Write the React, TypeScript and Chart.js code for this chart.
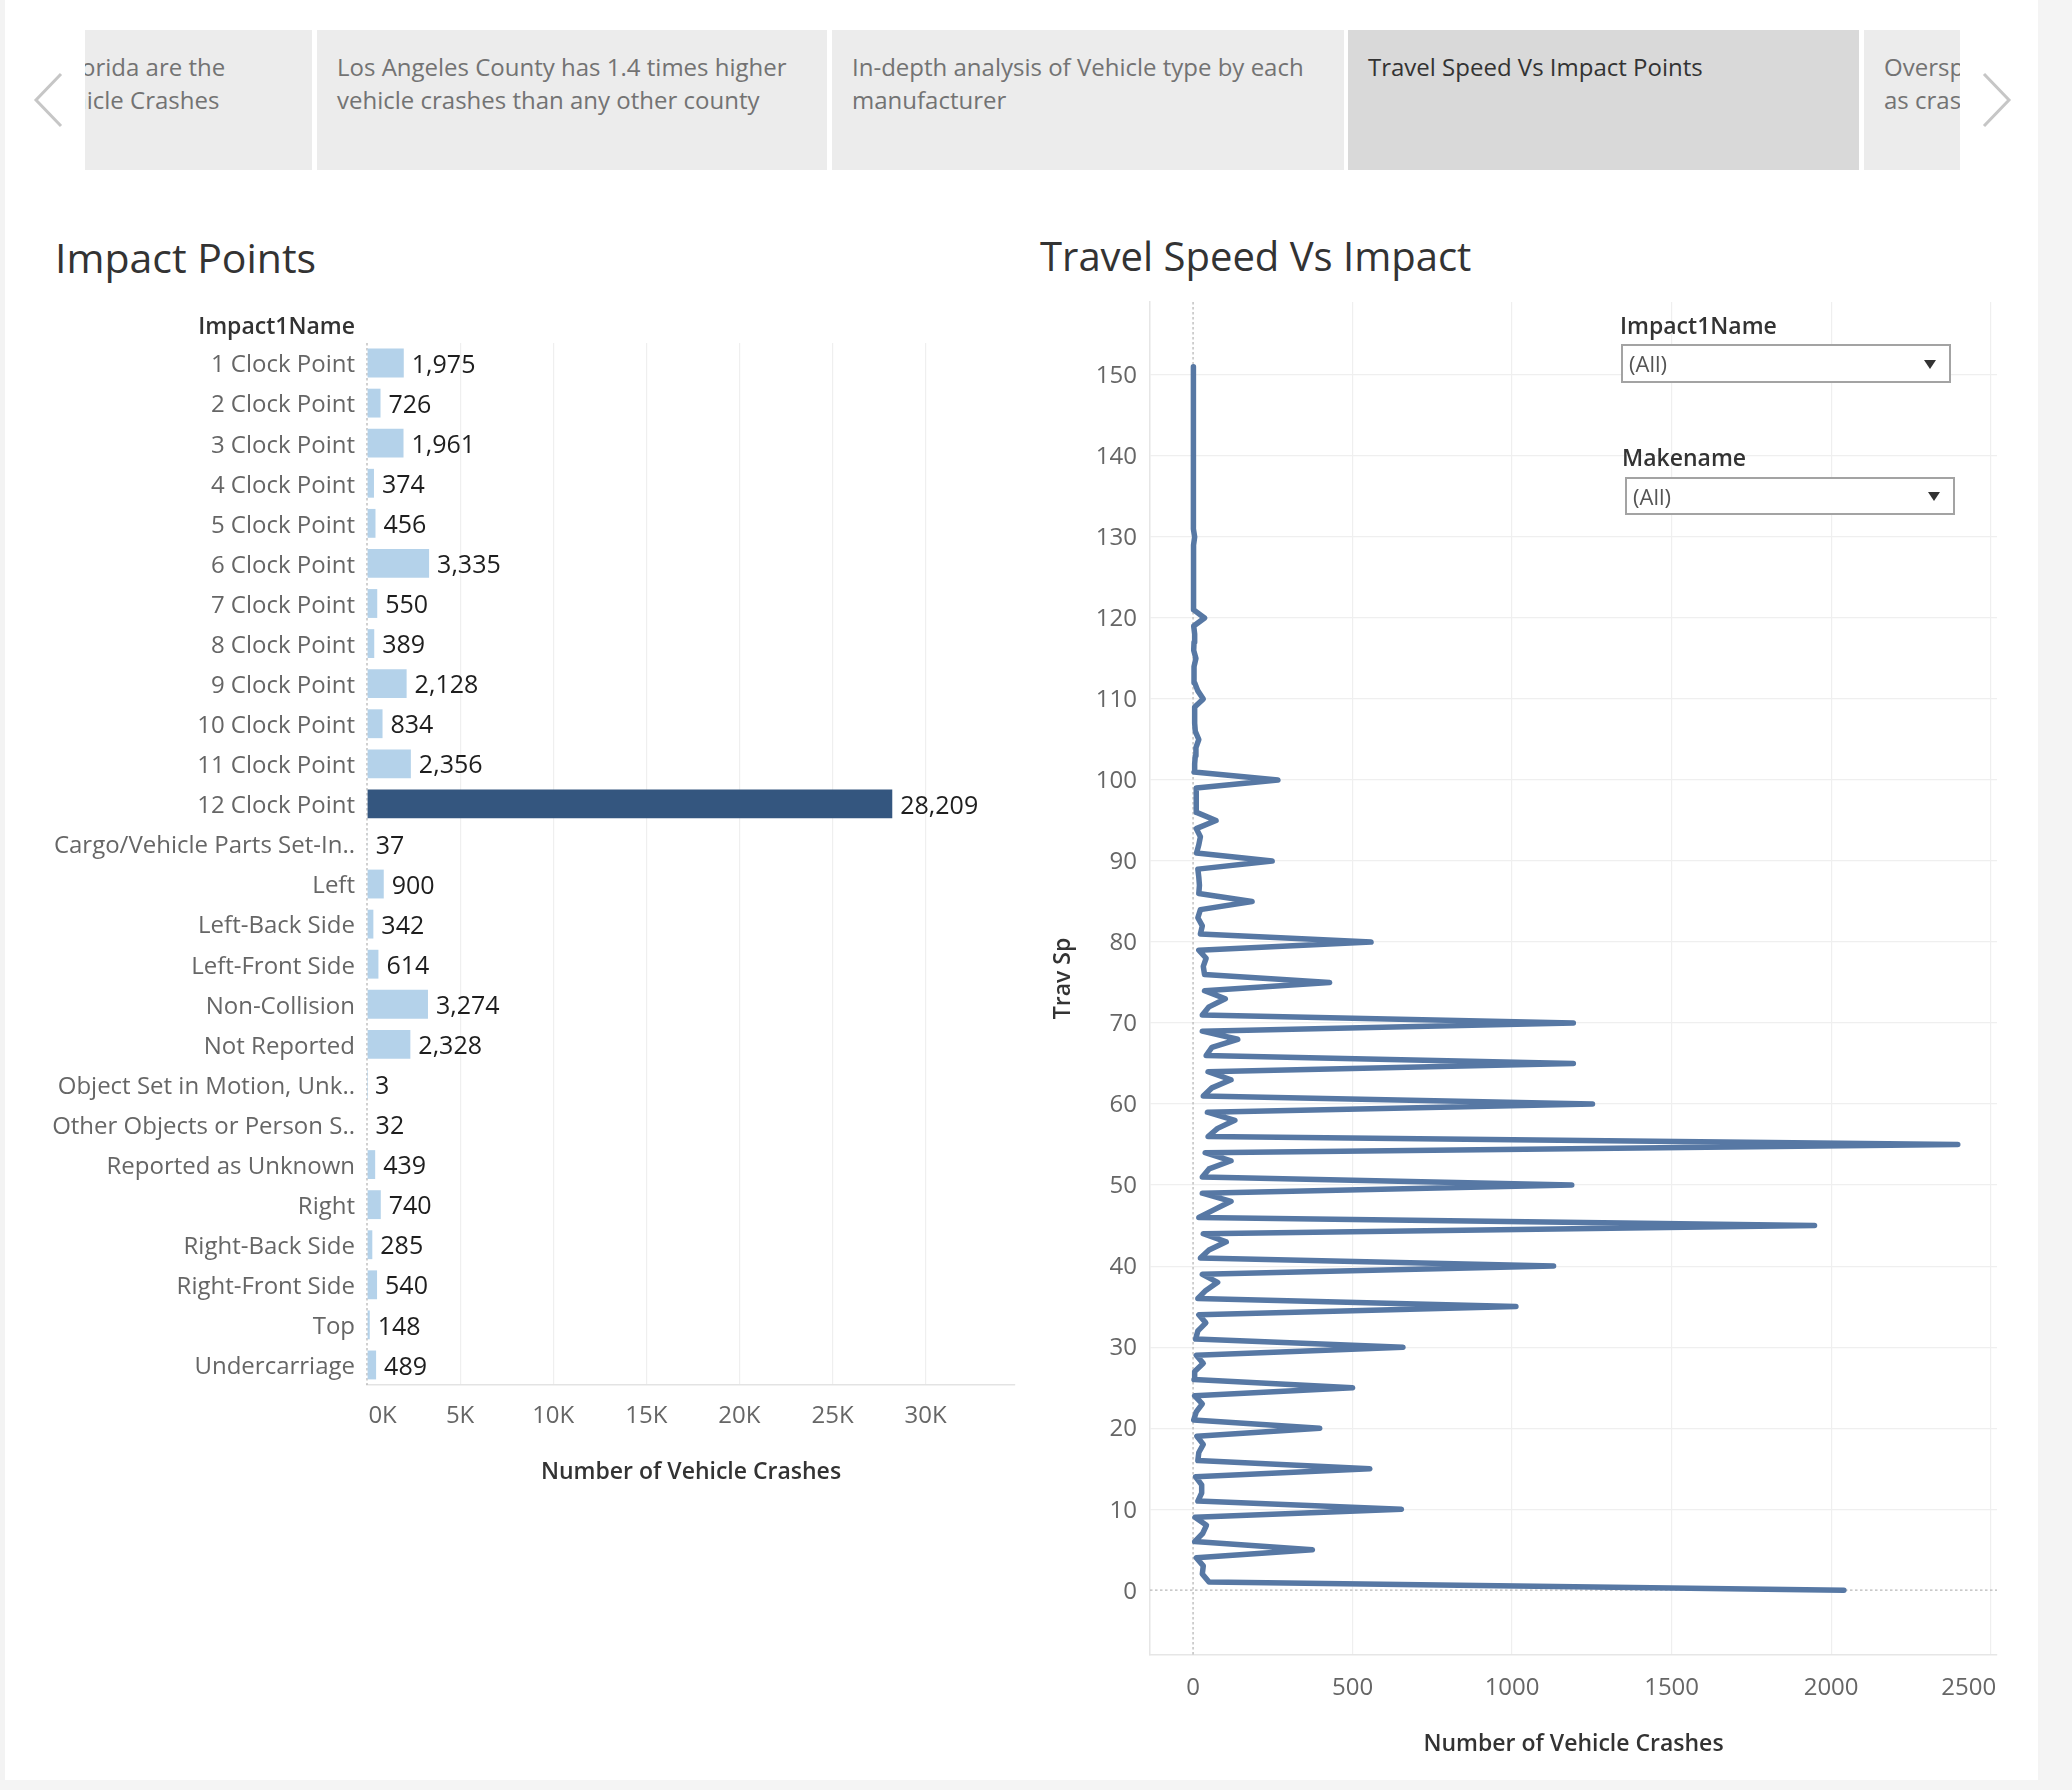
import React, { useEffect, useRef } from 'react';
import { Chart, registerables } from 'chart.js';

Chart.register(...registerables);

// ---------------- DATA ----------------
const impactCategories = [
  '1 Clock Point', '2 Clock Point', '3 Clock Point', '4 Clock Point', '5 Clock Point',
  '6 Clock Point', '7 Clock Point', '8 Clock Point', '9 Clock Point', '10 Clock Point',
  '11 Clock Point', '12 Clock Point', 'Cargo/Vehicle Parts Set-In..', 'Left', 'Left-Back Side',
  'Left-Front Side', 'Non-Collision', 'Not Reported', 'Object Set in Motion, Unk..',
  'Other Objects or Person S..', 'Reported as Unknown', 'Right', 'Right-Back Side',
  'Right-Front Side', 'Top', 'Undercarriage',
];
const impactCounts = [
  1975, 726, 1961, 374, 456,
  3335, 550, 389, 2128, 834,
  2356, 28209, 37, 900, 342,
  614, 3274, 2328, 3,
  32, 439, 740, 285,
  540, 148, 489,
];
const highlightCategory = '12 Clock Point';
const impactAxisTicks = [0, 5000, 10000, 15000, 20000, 25000, 30000];

const travelSpeeds = [
  0, 1, 2, 3, 4, 5, 6, 7, 8, 9,
  10, 11, 12, 13, 14, 15, 16, 17, 18, 19,
  20, 21, 22, 23, 24, 25, 26, 27, 28, 29,
  30, 31, 32, 33, 34, 35, 36, 37, 38, 39,
  40, 41, 42, 43, 44, 45, 46, 47, 48, 49,
  50, 51, 52, 53, 54, 55, 56, 57, 58, 59,
  60, 61, 62, 63, 64, 65, 66, 67, 68, 69,
  70, 71, 72, 73, 74, 75, 76, 77, 78, 79,
  80, 81, 82, 83, 84, 85, 86, 87, 88, 89,
  90, 91, 92, 93, 94, 95, 96, 97, 98, 99,
  100, 101, 102, 103, 104, 105, 106, 107, 108, 109,
  110, 111, 112, 113, 114, 115, 116, 117, 118, 119,
  120, 121, 122, 123, 124, 125, 126, 127, 128, 129,
  130, 131, 132, 133, 134, 135, 136, 137, 138, 139,
  140, 141, 142, 143, 144, 145, 146, 147, 148, 149,
  150, 151,
];
const speedCrashCounts = [
  2040, 50, 29, 32, 10, 374, 5, 30, 42, 6,
  653, 15, 27, 27, 8, 554, 15, 18, 32, 12,
  397, 2, 10, 29, 5, 500, 3, 5, 32, 10,
  658, 8, 15, 40, 18, 1012, 15, 40, 77, 29,
  1130, 23, 50, 104, 32, 1948, 18, 68, 119, 29,
  1187, 29, 50, 119, 38, 2397, 47, 77, 131, 45,
  1252, 32, 59, 119, 47, 1192, 41, 59, 140, 29,
  1192, 29, 50, 101, 36, 428, 36, 32, 41, 18,
  558, 23, 29, 15, 23, 185, 18, 20, 18, 15,
  248, 11, 18, 23, 10, 72, 11, 10, 10, 10,
  266, 3, 5, 7, 9, 18, 7, 5, 5, 5,
  32, 15, 5, 3, 3, 9, 2, 3, 5, 2,
  36, 2, 2, 1, 1, 2, 2, 2, 1, 1,
  5, 1, 2, 2, 1, 2, 1, 0, 1, 1,
  2, 1, 1, 1, 1, 1, 0, 0, 1, 1,
  2, 0,
];
const crashAxisTicks = [0, 500, 1000, 1500, 2000, 2500];
const speedAxisTicks = [0, 10, 20, 30, 40, 50, 60, 70, 80, 90, 100, 110, 120, 130, 140, 150];

const storyTabs = [
  { lines: ['orida are the', 'hicle Crashes'], offsets: [-4, -13], selected: false },
  { lines: ['Los Angeles County has 1.4 times higher', 'vehicle crashes than any other county'], offsets: [0, 0], selected: false },
  { lines: ['In-depth analysis of Vehicle type by each', 'manufacturer'], offsets: [0, 0], selected: false },
  { lines: ['Travel Speed Vs Impact Points'], offsets: [0], selected: true },
  { lines: ['Overspeeding is reported', 'as crash factor'], offsets: [0, 0], selected: false },
];

// ---------------- STYLE ----------------
const FONT = '"Open Sans", "Noto Sans", sans-serif';
const BAR_LIGHT = '#b4d2ea';
const BAR_DARK = '#34567f';
const LINE_BLUE = '#5778a4';
const GRID = '#efefef';

const tabBoxes = [
  { left: 85, width: 227 },
  { left: 317, width: 510 },
  { left: 832, width: 512 },
  { left: 1348, width: 511 },
  { left: 1864, width: 96 },
];

function Txt(props: {
  x: number; baseline: number; size: number; color?: string; weight?: number | string;
  align?: 'left' | 'right'; children: React.ReactNode;
}) {
  const { x, baseline, size, color = '#333', weight = 400, align = 'left', children } = props;
  const style: React.CSSProperties = {
    position: 'absolute',
    top: baseline - 0.888 * size,
    fontSize: size,
    lineHeight: 1,
    color,
    fontWeight: weight as any,
    fontFamily: FONT,
    whiteSpace: 'nowrap',
  };
  if (align === 'right') style.right = 2072 - x;
  else style.left = x;
  return <div style={style}>{children}</div>;
}

function zeroPad(s: any) {
  s.paddingLeft = 0;
  s.paddingRight = 0;
  s.paddingTop = 0;
  s.paddingBottom = 0;
}

function BarChart() {
  const ref = useRef<HTMLCanvasElement>(null);
  useEffect(() => {
    if (!ref.current) return;
    const zeroLine = {
      id: 'zeroLineBar',
      beforeDatasetsDraw(chart: any) {
        const { ctx, chartArea, scales } = chart;
        const x = scales.x.getPixelForValue(0);
        ctx.save();
        ctx.strokeStyle = '#b8b8b8';
        ctx.lineWidth = 1.3;
        ctx.setLineDash([2.5, 2.5]);
        ctx.beginPath();
        ctx.moveTo(x, chartArea.top);
        ctx.lineTo(x, chartArea.bottom);
        ctx.stroke();
        ctx.restore();
      },
    };
    const valueLabels = {
      id: 'barValueLabels',
      afterDatasetsDraw(chart: any) {
        const { ctx } = chart;
        const meta = chart.getDatasetMeta(0);
        ctx.save();
        ctx.font = `25px ${FONT}`;
        ctx.fillStyle = '#1e1e1e';
        ctx.textAlign = 'left';
        ctx.textBaseline = 'middle';
        meta.data.forEach((bar: any, i: number) => {
          ctx.fillText(impactCounts[i].toLocaleString('en-US'), bar.x + 8, bar.y + 2.5);
        });
        ctx.restore();
      },
    };
    const chart = new Chart(ref.current, {
      type: 'bar',
      data: {
        labels: impactCategories,
        datasets: [
          {
            data: impactCounts,
            backgroundColor: impactCategories.map((c) => (c === highlightCategory ? BAR_DARK : BAR_LIGHT)),
            barPercentage: 0.72,
            categoryPercentage: 1,
          },
        ],
      },
      options: {
        indexAxis: 'y',
        responsive: false,
        animation: false,
        layout: { padding: { top: 43, right: 15, left: 0, bottom: 0 } },
        plugins: { legend: { display: false }, tooltip: { enabled: false } },
        scales: {
          x: {
            type: 'linear',
            min: 0,
            max: 34800,
            afterBuildTicks: (s: any) => {
              s.ticks = impactAxisTicks.map((v) => ({ value: v }));
            },
            ticks: {
              autoSkip: false,
              maxRotation: 0,
              color: '#666',
              font: { family: FONT, size: 24 },
              padding: 17,
              callback: (v: any) => (Number(v) === 0 ? '     0K' : Number(v) / 1000 + 'K'),
            },
            grid: {
              color: (c: any) => (c.tick && c.tick.value === 0 ? 'rgba(0,0,0,0)' : GRID),
              lineWidth: 1.2,
              drawTicks: false,
            },
            border: { display: true, color: '#e3e3e3', width: 1.5 },
            title: {
              display: true,
              text: 'Number of Vehicle Crashes',
              color: '#333',
              font: { family: FONT, size: 23, weight: '600' },
              padding: { top: 0, bottom: 14 },
            },
            afterFit: (s: any) => {
              s.height = 115;
              zeroPad(s);
            },
          },
          y: {
            ticks: { color: '#666', font: { family: FONT, size: 24 }, padding: 12, autoSkip: false, labelOffset: 2.5 },
            grid: { display: false, drawTicks: false },
            border: { display: false },
            afterFit: (s: any) => {
              s.width = 367;
              zeroPad(s);
            },
          },
        },
      } as any,
      plugins: [zeroLine, valueLabels],
    });
    return () => chart.destroy();
  }, []);
  return (
    <canvas
      ref={ref}
      width={1030}
      height={1200}
      style={{ position: 'absolute', left: 0, top: 300, width: 1030, height: 1200 }}
    />
  );
}

function LineChart() {
  const ref = useRef<HTMLCanvasElement>(null);
  useEffect(() => {
    if (!ref.current) return;
    const zeroLines = {
      id: 'zeroLinesLine',
      beforeDatasetsDraw(chart: any) {
        const { ctx, chartArea, scales } = chart;
        const x0 = scales.x.getPixelForValue(0);
        const y0 = scales.y.getPixelForValue(0);
        ctx.save();
        ctx.strokeStyle = '#b8b8b8';
        ctx.lineWidth = 1.3;
        ctx.setLineDash([2.5, 2.5]);
        ctx.beginPath();
        ctx.moveTo(x0, chartArea.top);
        ctx.lineTo(x0, chartArea.bottom);
        ctx.moveTo(chartArea.left, y0);
        ctx.lineTo(chartArea.right, y0);
        ctx.stroke();
        ctx.restore();
      },
    };
    const chart = new Chart(ref.current, {
      type: 'scatter',
      data: {
        datasets: [
          {
            data: travelSpeeds.map((s, i) => ({ x: speedCrashCounts[i], y: s })),
            showLine: true,
            borderColor: LINE_BLUE,
            backgroundColor: LINE_BLUE,
            borderWidth: 5.5,
            pointRadius: 0,
            pointHoverRadius: 0,
            borderJoinStyle: 'round',
            borderCapStyle: 'round',
            tension: 0,
          },
        ],
      },
      options: {
        responsive: false,
        animation: false,
        layout: { padding: { top: 12, right: 41, left: 0, bottom: 0 } },
        plugins: { legend: { display: false }, tooltip: { enabled: false } },
        scales: {
          x: {
            type: 'linear',
            min: -135,
            max: 2520,
            afterBuildTicks: (s: any) => {
              s.ticks = crashAxisTicks.map((v) => ({ value: v }));
            },
            ticks: {
              maxRotation: 0,
              autoSkip: false,
              color: '#666',
              font: { family: FONT, size: 24 },
              padding: 19,
              callback: (v: any) => (Number(v) === 2500 ? '2500       ' : String(v)),
            },
            grid: {
              color: (c: any) => (c.tick && c.tick.value === 0 ? 'rgba(0,0,0,0)' : GRID),
              lineWidth: 1.2,
              drawTicks: false,
            },
            border: { display: true, color: '#e6e6e6', width: 1.5 },
            title: {
              display: true,
              text: 'Number of Vehicle Crashes',
              color: '#333',
              font: { family: FONT, size: 23, weight: '600' },
              padding: { top: 0, bottom: 22 },
            },
            afterFit: (s: any) => {
              s.height = 125;
              zeroPad(s);
            },
          },
          y: {
            type: 'linear',
            min: -8,
            max: 159,
            afterBuildTicks: (s: any) => {
              s.ticks = speedAxisTicks.map((v) => ({ value: v }));
            },
            ticks: {
              autoSkip: false,
              color: '#666',
              font: { family: FONT, size: 24 },
              padding: 13,
              labelOffset: 1.5,
            },
            grid: {
              color: (c: any) => (c.tick && c.tick.value === 0 ? 'rgba(0,0,0,0)' : GRID),
              lineWidth: 1.2,
              drawTicks: false,
            },
            border: { display: true, color: '#e6e6e6', width: 1.5 },
            title: {
              display: true,
              text: 'Trav Sp',
              color: '#333',
              font: { family: FONT, size: 23, weight: '600' },
              padding: { top: 20, bottom: 0 },
            },
            afterFit: (s: any) => {
              s.width = 120;
              zeroPad(s);
            },
          },
        },
      } as any,
      plugins: [zeroLines],
    });
    return () => chart.destroy();
  }, []);
  return (
    <canvas
      ref={ref}
      width={1008}
      height={1490}
      style={{ position: 'absolute', left: 1030, top: 290, width: 1008, height: 1490 }}
    />
  );
}

function FilterBox(props: { label: string; labelX: number; labelBaseline: number; left: number; top: number; width: number; height: number }) {
  const { label, labelX, labelBaseline, left, top, width, height } = props;
  return (
    <>
      <Txt x={labelX} baseline={labelBaseline} size={23} weight={600} color="#333">{label}</Txt>
      <div
        style={{
          position: 'absolute', left, top, width, height, boxSizing: 'border-box',
          border: '2px solid #a3a3a3', background: '#fff',
        }}
      >
        <div
          style={{
            position: 'absolute', left: 6, top: 0,
            fontFamily: FONT, fontSize: 22, lineHeight: `${height - 4}px`, color: '#555',
          }}
        >
          (All)
        </div>
        <div
          style={{
            position: 'absolute', right: 13, top: height / 2 - 6,
            width: 0, height: 0, borderLeft: '6px solid transparent', borderRight: '6px solid transparent',
            borderTop: '9px solid #333',
          }}
        />
      </div>
    </>
  );
}

export default function App() {
  return (
    <div
      style={{
        position: 'absolute', left: 0, top: 0, width: 2072, height: 1790, background: '#fff',
        overflow: 'hidden', fontFamily: FONT,
      }}
    >
      <div style={{ position: 'absolute', left: 0, top: 0, width: 5, height: 1790, background: '#f3f3f3' }} />
      <div style={{ position: 'absolute', left: 2038, top: 0, width: 34, height: 1790, background: '#f4f4f4' }} />
      <div style={{ position: 'absolute', left: 0, top: 1780, width: 2072, height: 10, background: '#f4f4f4' }} />

      {storyTabs.map((t, i) => (
        <div
          key={i}
          style={{
            position: 'absolute', left: tabBoxes[i].left, top: 30, width: tabBoxes[i].width, height: 140,
            background: t.selected ? '#d9d9d9' : '#ececec', overflow: 'hidden',
          }}
        >
          {t.lines.map((ln, j) => (
            <div
              key={j}
              style={{
                position: 'absolute', left: (i === 0 ? 0 : 20) + t.offsets[j], top: 20 + j * 33,
                fontSize: 24, lineHeight: '33px', whiteSpace: 'nowrap', fontFamily: FONT,
                color: t.selected ? '#333' : '#737373',
              }}
            >
              {ln}
            </div>
          ))}
        </div>
      ))}

      <svg width={2072} height={200} style={{ position: 'absolute', left: 0, top: 0 }}>
        <polyline points="61,74 36,100 61,126" fill="none" stroke="#c6c6c6" strokeWidth={3} />
        <polyline points="1984,74 2009,100 1984,126" fill="none" stroke="#c6c6c6" strokeWidth={3} />
      </svg>

      <Txt x={55} baseline={273} size={41} color="#333">Impact Points</Txt>
      <Txt x={1040} baseline={272} size={40} color="#333">Travel Speed Vs Impact</Txt>

      <BarChart />
      <LineChart />

      <Txt x={355} baseline={334} size={23} weight={600} color="#333" align="right">Impact1Name</Txt>

      <FilterBox label="Impact1Name" labelX={1620} labelBaseline={334} left={1621} top={344} width={330} height={39} />
      <FilterBox label="Makename" labelX={1622} labelBaseline={466} left={1625} top={477} width={330} height={38} />
    </div>
  );
}
